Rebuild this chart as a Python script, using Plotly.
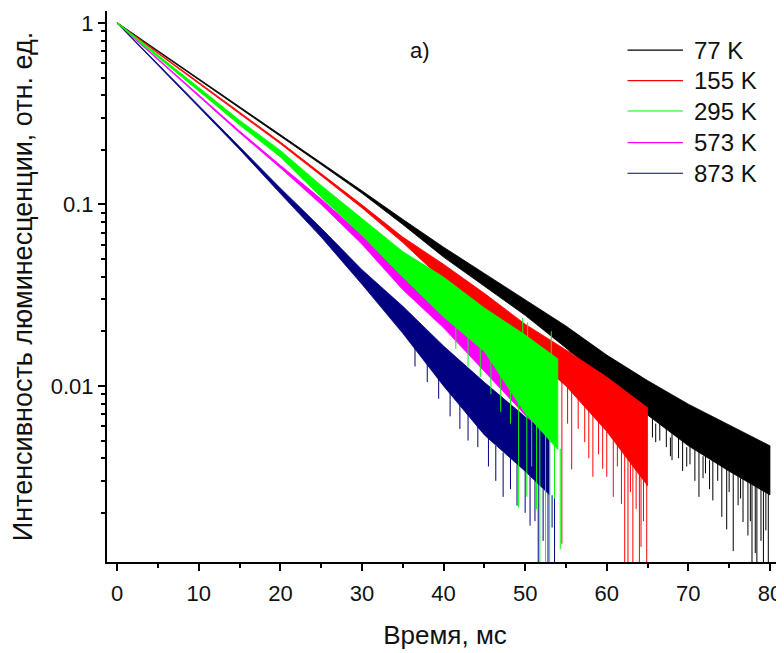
import plotly.graph_objects as go

# ---- data (time in ms, intensity in rel. units) ----
series_names = ["77 K", "155 K", "295 K", "573 K", "873 K"]
series_colors = ["#000000", "#ff0000", "#00ff00", "#ff00ff", "#000080"]

# 77 K : upper / lower edge of the noisy trace
t_77 = [0, 5, 10, 15, 20, 25, 30, 35, 40, 45, 50, 55, 60, 65, 70, 75, 80]
hi_77 = [1.004, 0.705, 0.493, 0.346, 0.242, 0.170, 0.119, 0.0828, 0.0582, 0.0417,
         0.0299, 0.0214, 0.0148, 0.0107, 0.00794, 0.00610, 0.00468]
lo_77 = [0.995, 0.693, 0.485, 0.340, 0.237, 0.166, 0.1153, 0.0776, 0.0513, 0.0355,
         0.0245, 0.0162, 0.0105, 0.00692, 0.00468, 0.00339, 0.00251]
# downward noise spikes: time, top, bottom
sp_t_77 = [55.5, 56.8, 58.2, 59.6, 61.0, 62.0, 62.7, 63.4, 64.0, 64.5, 65.6, 66.0, 66.5, 67.3,
           67.8, 68.0, 68.8, 69.3, 69.8, 70.2, 70.8, 71.3, 71.8, 72.1, 72.6, 73.0, 73.6, 74.1,
           74.7, 75.0, 75.5, 76.1, 76.4, 76.7, 77.3, 77.6, 77.8, 78.2, 78.4, 78.9, 79.2, 79.5, 79.8]
sp_top_77 = [0.018, 0.016, 0.0145, 0.0128, 0.0118, 0.0110, 0.0085, 0.0098, 0.0075, 0.0090,
             0.0083, 0.0062, 0.0078, 0.0073, 0.0052, 0.0070, 0.0066, 0.0063, 0.0046, 0.0058,
             0.0056, 0.0054, 0.0041, 0.0051, 0.0039, 0.0048, 0.0046, 0.0044, 0.0042, 0.0034,
             0.0039, 0.0037, 0.0031, 0.0035, 0.0033, 0.0029, 0.0032, 0.0028, 0.0030, 0.0029,
             0.0028, 0.0027, 0.0027]
sp_bot_77 = [0.0128, 0.0118, 0.0098, 0.0092, 0.0078, 0.0071, 0.0068, 0.0066, 0.0057, 0.0062,
             0.0052, 0.0049, 0.0050, 0.0046, 0.0041, 0.0039, 0.0040, 0.0034, 0.0036, 0.0037,
             0.0030, 0.00245, 0.0031, 0.0033, 0.0027, 0.00234, 0.0030, 0.0019, 0.00162, 0.0026,
             0.00123, 0.0022, 0.0024, 0.00178, 0.0015, 0.0018, 0.0009, 0.0012, 0.0009, 0.0014,
             0.0009, 0.0016, 0.0009]

# 155 K
t_155 = [0, 5, 10, 15, 20, 25, 30, 35, 40, 45, 50, 55, 60, 65]
hi_155 = [1.004, 0.689, 0.471, 0.323, 0.221, 0.148, 0.0995, 0.0661, 0.0468, 0.0324,
          0.0219, 0.0158, 0.0112, 0.00759]
lo_155 = [0.995, 0.678, 0.463, 0.316, 0.216, 0.144, 0.0957, 0.0617, 0.0380, 0.0245,
          0.0158, 0.0100, 0.00562, 0.00282]
sp_t_155 = [49.5, 51.0, 52.3, 53.4, 54.5, 55.2, 55.7, 56.5, 57.3, 57.8, 58.3, 59.0, 59.5,
            60.0, 60.8, 61.3, 61.8, 62.2, 62.6, 62.9, 63.2, 63.6, 64.0, 64.2, 64.5, 64.9]
sp_top_155 = [0.0165, 0.0148, 0.0135, 0.0123, 0.0110, 0.0100, 0.0096, 0.0088, 0.0080, 0.0076,
              0.0072, 0.0066, 0.0062, 0.0058, 0.0053, 0.0050, 0.0047, 0.0045, 0.0043, 0.0041,
              0.0040, 0.0037, 0.0035, 0.0034, 0.0032, 0.0029]
sp_bot_155 = [0.0125, 0.0108, 0.0095, 0.0078, 0.00135, 0.0062, 0.00347, 0.0058, 0.0049, 0.0040,
              0.00316, 0.0042, 0.0035, 0.00316, 0.00245, 0.0036, 0.00224, 0.0009, 0.0009, 0.0026,
              0.0009, 0.0021, 0.0009, 0.0013, 0.0018, 0.0009]

# 295 K
t_295 = [0, 5, 10, 15, 20, 25, 30, 35, 40, 45, 50, 54]
hi_295 = [1.006, 0.668, 0.4416, 0.291, 0.1986, 0.1274, 0.0832, 0.0550, 0.0398, 0.0269, 0.0191, 0.0141]
lo_295 = [0.993, 0.652, 0.4217, 0.274, 0.1827, 0.1096, 0.0676, 0.0398, 0.0240, 0.0155, 0.00708, 0.00447]
sp_t_295 = [41.5, 43.0, 44.5, 45.8, 47.0, 48.2, 49.2, 49.7, 50.2, 50.3, 50.8, 51.4, 51.8,
            52.5, 53.0, 53.2, 53.6, 54.3]
sp_top_295 = [0.021, 0.019, 0.0165, 0.0145, 0.0120, 0.0105, 0.0088, 0.0237, 0.0072, 0.0224,
              0.0068, 0.0064, 0.0061, 0.0056, 0.0052, 0.020, 0.0049, 0.0045]
sp_bot_295 = [0.0160, 0.0128, 0.0112, 0.0090, 0.0072, 0.0062, 0.00214, 0.0155, 0.00245, 0.0150,
              0.0036, 0.00209, 0.0009, 0.0009, 0.0009, 0.012, 0.0024, 0.00126]

# 573 K
t_573 = [0, 5, 10, 15, 20, 25, 30, 35, 40, 45, 50, 53]
hi_573 = [1.004, 0.635, 0.402, 0.254, 0.1644, 0.1072, 0.0676, 0.0417, 0.0269, 0.0170, 0.0107, 0.00851]
lo_573 = [0.995, 0.625, 0.394, 0.248, 0.159, 0.1000, 0.0603, 0.0339, 0.0209, 0.0120, 0.00692, 0.00501]
sp_t_573 = []
sp_top_573 = []
sp_bot_573 = []

# 873 K
t_873 = [0, 5, 10, 15, 20, 25, 30, 35, 40, 45, 50, 53]
hi_873 = [1.004, 0.593, 0.350, 0.207, 0.1230, 0.0741, 0.0437, 0.0275, 0.0166, 0.01047, 0.00676, 0.00537]
lo_873 = [0.995, 0.583, 0.343, 0.201, 0.1148, 0.0661, 0.0363, 0.0195, 0.0100, 0.00537, 0.00339, 0.00251]
sp_t_873 = [36.5, 38.0, 39.4, 40.8, 42.0, 43.0, 44.2, 45.5, 46.4, 47.3, 48.2, 49.0, 50.0,
            50.6, 51.2, 51.6, 52.2, 52.8, 53.3, 53.6]
sp_top_873 = [0.0175, 0.0148, 0.0115, 0.0094, 0.0085, 0.0076, 0.0064, 0.0052, 0.0047, 0.0043,
              0.0040, 0.0037, 0.0034, 0.0032, 0.0030, 0.0029, 0.0027, 0.0026, 0.0025, 0.0024]
sp_bot_873 = [0.0128, 0.0105, 0.0085, 0.0068, 0.0058, 0.0050, 0.0046, 0.0036, 0.0030, 0.00245,
              0.0027, 0.00219, 0.0020, 0.0017, 0.0018, 0.0009, 0.0014, 0.0009, 0.00166, 0.0009]

x_tick_vals = [0, 10, 20, 30, 40, 50, 60, 70, 80]
y_tick_vals = [0.01, 0.1, 1]
y_tick_text = ["0.01", "0.1", "1"]
y_minor_vals = [0.002, 0.003, 0.004, 0.005, 0.006, 0.007, 0.008, 0.009,
                0.02, 0.03, 0.04, 0.05, 0.06, 0.07, 0.08, 0.09,
                0.2, 0.3, 0.4, 0.5, 0.6, 0.7, 0.8, 0.9]

data = {
    "77 K": (t_77, hi_77, lo_77, sp_t_77, sp_top_77, sp_bot_77),
    "155 K": (t_155, hi_155, lo_155, sp_t_155, sp_top_155, sp_bot_155),
    "295 K": (t_295, hi_295, lo_295, sp_t_295, sp_top_295, sp_bot_295),
    "573 K": (t_573, hi_573, lo_573, sp_t_573, sp_top_573, sp_bot_573),
    "873 K": (t_873, hi_873, lo_873, sp_t_873, sp_top_873, sp_bot_873),
}
color_of = dict(zip(series_names, series_colors))
draw_order = ["77 K", "155 K", "573 K", "873 K", "295 K"]

FONT = "Liberation Sans, Arial, sans-serif"
TXT = "#111111"

fig = go.Figure()
for name in draw_order:
    t, hi, lo, st, stop, sbot = data[name]
    c = color_of[name]
    fig.add_trace(go.Scatter(
        x=list(t) + list(t[::-1]), y=list(hi) + list(lo[::-1]),
        mode="lines", fill="toself", fillcolor=c,
        line=dict(color=c, width=0.8), name=name, showlegend=False, hoverinfo="skip"))
    if st:
        xs, ys = [], []
        for ti, a, b in zip(st, stop, sbot):
            xs += [ti, ti, None]
            ys += [a, b, None]
        fig.add_trace(go.Scatter(x=xs, y=ys, mode="lines",
                                 line=dict(color=c, width=1),
                                 showlegend=False, hoverinfo="skip"))

# legend drawn as line + label
leg_y = [0.929, 0.8735, 0.8185, 0.761, 0.7055]
for name, yy in zip(series_names, leg_y):
    fig.add_shape(type="line", xref="paper", yref="paper",
                  x0=0.770, x1=0.852, y0=yy, y1=yy,
                  line=dict(color=color_of[name], width=1.2))
    fig.add_annotation(xref="paper", yref="paper", x=0.865, y=yy,
                       text=name, showarrow=False, xanchor="left", yanchor="middle",
                       font=dict(family=FONT, size=24, color=TXT))

fig.add_annotation(xref="paper", yref="paper", x=0.463, y=0.929, text="a)",
                   showarrow=False, xanchor="center", yanchor="middle",
                   font=dict(family=FONT, size=22, color=TXT))

fig.update_layout(
    width=784, height=653,
    margin=dict(l=99, r=9, t=3, b=99),
    paper_bgcolor="white", plot_bgcolor="white",
    font=dict(family=FONT, color=TXT),
    showlegend=False,
)
fig.update_xaxes(
    range=[-1.25, 81.6], showgrid=False, zeroline=False,
    showline=True, linecolor="black", linewidth=2,
    ticks="outside", ticklen=7, tickwidth=2, tickcolor="black",
    tickvals=x_tick_vals, tickfont=dict(size=22, family=FONT, color=TXT),
    ticklabelstandoff=4,
    minor=dict(ticks="outside", ticklen=4, tickwidth=2, tickcolor="black", dtick=5, tick0=0, showgrid=False),
    title=dict(text="Время, мс", font=dict(size=26, family=FONT, color=TXT), standoff=20),
    automargin=False,
)
fig.update_yaxes(
    type="log", range=[-2.97, 0.066], showgrid=False, zeroline=False,
    showline=True, linecolor="black", linewidth=2,
    ticks="outside", ticklen=7, tickwidth=2, tickcolor="black",
    tickvals=y_tick_vals, ticktext=y_tick_text,
    tickfont=dict(size=22, family=FONT, color=TXT),
    minor=dict(ticks="outside", ticklen=4, tickwidth=2, tickcolor="black",
               tickvals=y_minor_vals, showgrid=False),
    title=dict(text="Интенсивность люминесценции, отн. ед.",
               font=dict(size=27, family=FONT, color=TXT), standoff=18),
    automargin=False,
)

fig.write_html("out.html")
